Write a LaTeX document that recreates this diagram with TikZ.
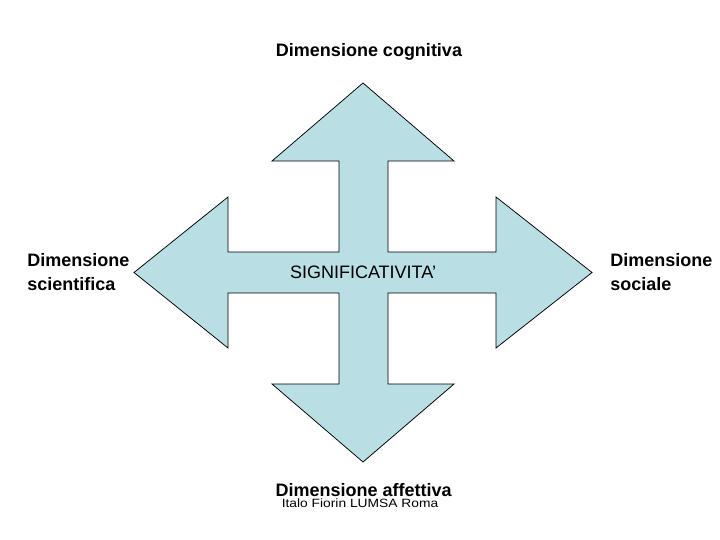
\documentclass[tikz,border=0pt]{standalone}
\usepackage{fontspec}
\setmainfont{Liberation Sans}
\usepackage{tikz}
\usepackage{xcolor}
\definecolor{arrowfill}{RGB}{185,222,227}
\tikzset{every picture/.style={line width=0.75pt}}
\tikzset{
  dimlabel/.style={inner sep=0pt, font=\fontsize{18}{23.3}\selectfont\bfseries, align=left},
  centrelabel/.style={inner sep=0pt, font=\fontsize{18}{23}\selectfont},
  creditlabel/.style={inner sep=0pt, font=\fontsize{12}{14}\selectfont}
}

\begin{document}
\begin{tikzpicture}[x=1pt,y=1pt,yscale=-1,xscale=1]
\useasboundingbox (0,0) rectangle (720,540);

%Shape: Quad Arrow [id:quadarrow]
\draw [fill=arrowfill] (363,83) -- (454,161) -- (388,161) -- (388,252) -- (496,252) -- (496,197) -- (592,272.5) -- (496,348) -- (496,293) -- (388,293) -- (388,384) -- (454,384) -- (363,462) -- (272,384) -- (339,384) -- (339,293) -- (228,293) -- (228,348) -- (134,272.5) -- (228,197) -- (228,252) -- (339,252) -- (339,161) -- (272,161) -- cycle ;

% Text Node
\node (cognitiva) [dimlabel, anchor=base] at (369,56.7) {Dimensione cognitiva};
% Text Node
\node (scientifica) [dimlabel, anchor=base west] at (27,290) {Dimensione\\scientifica};
% Text Node
\node (sociale) [dimlabel, anchor=base west] at (610,290) {Dimensione\\sociale};
% Text Node
\node (significativita) [centrelabel, anchor=base] at (363,278.3) {SIGNIFICATIVITA’};
% Text Node
\node (affettiva) [dimlabel, anchor=base] at (363.7,496.7) {Dimensione affettiva};
% Text Node
\node (credit) [creditlabel, anchor=base] at (360,507.3) {\scalebox{1.15}[1]{Italo Fiorin LUMSA Roma}};

\end{tikzpicture}
\end{document}
